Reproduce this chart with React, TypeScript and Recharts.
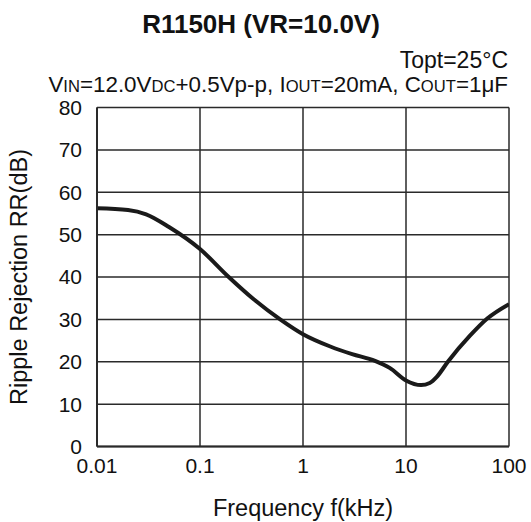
import React from 'react';
import { LineChart, Line, XAxis, YAxis, CartesianGrid } from 'recharts';

const freqKHz = [0.01, 0.02, 0.03, 0.05, 0.1, 0.19, 0.33, 0.6, 1, 1.84, 3, 5, 7, 10, 14, 17, 20, 25.5, 42, 61.5, 100];
const rippleDb = [56.2, 55.8, 54.8, 51.8, 46.6, 40, 34.8, 30, 26.5, 23.6, 21.8, 20.2, 18.5, 15.6, 14.5, 15.0, 16.5, 20, 26.2, 30.2, 33.6];
const xTicks = [0.01, 0.1, 1, 10, 100];
const yTicks = [0, 10, 20, 30, 40, 50, 60, 70, 80];

const data = freqKHz.map((f, i) => ({ f, rr: rippleDb[i] }));

const FONT = '"Liberation Sans", Arial, Helvetica, sans-serif';
const W = 531;
const H = 522;

export default function App() {
  return (
    <div style={{ position: 'absolute', left: 0, top: 0, width: W, height: H, background: '#fff', fontFamily: FONT }}>
      <LineChart width={W} height={H} data={data} margin={{ top: 107.5, right: 22, bottom: 0, left: 0 }}>
        <CartesianGrid stroke="#2a2a2a" strokeWidth={1.5} horizontalValues={yTicks} verticalValues={xTicks} />
        <XAxis
          dataKey="f"
          type="number"
          scale="log"
          domain={[0.01, 100]}
          ticks={xTicks}
          allowDataOverflow
          height={75.5}
          tickSize={0}
          tickMargin={12}
          tick={{ fill: '#111', fontSize: 21, fontFamily: FONT }}
          axisLine={{ stroke: '#2a2a2a', strokeWidth: 2 }}
          tickLine={false}
          label={{ value: 'Frequency f(kHz)', position: 'insideBottom', offset: 6, fill: '#111', fontSize: 23.5, fontFamily: FONT }}
        />
        <YAxis
          type="number"
          domain={[0, 80]}
          ticks={yTicks}
          width={97}
          tickSize={0}
          tickMargin={15}
          tick={{ fill: '#111', fontSize: 21, fontFamily: FONT }}
          axisLine={{ stroke: '#2a2a2a', strokeWidth: 2 }}
          tickLine={false}
          label={{ value: 'Ripple Rejection RR(dB)', angle: -90, position: 'insideLeft', offset: 19, fill: '#111', fontSize: 23.5, fontFamily: FONT, style: { textAnchor: 'middle' } }}
        />
        <Line type="monotone" dataKey="rr" stroke="#1a1a1a" strokeWidth={4} dot={false} isAnimationActive={false} />
      </LineChart>
      <svg width={W} height={110} style={{ position: 'absolute', left: 0, top: 0, pointerEvents: 'none' }}>
        <text x={261} y={33} textAnchor="middle" fontSize={26} fontWeight="bold" fill="#111" fontFamily={FONT}>R1150H (VR=10.0V)</text>
        <text x={508} y={68} textAnchor="end" fontSize={23} fill="#111" fontFamily={FONT}>Topt=25°C</text>
        <text x={508} y={92} textAnchor="end" fontSize={22.4} fill="#111" fontFamily={FONT}>
          V<tspan fontSize={16.6}>IN</tspan>=12.0V<tspan fontSize={16.6}>DC</tspan>+0.5Vp-p, I<tspan fontSize={16.6}>OUT</tspan>=20mA, C<tspan fontSize={16.6}>OUT</tspan>=1μF
        </text>
      </svg>
    </div>
  );
}
